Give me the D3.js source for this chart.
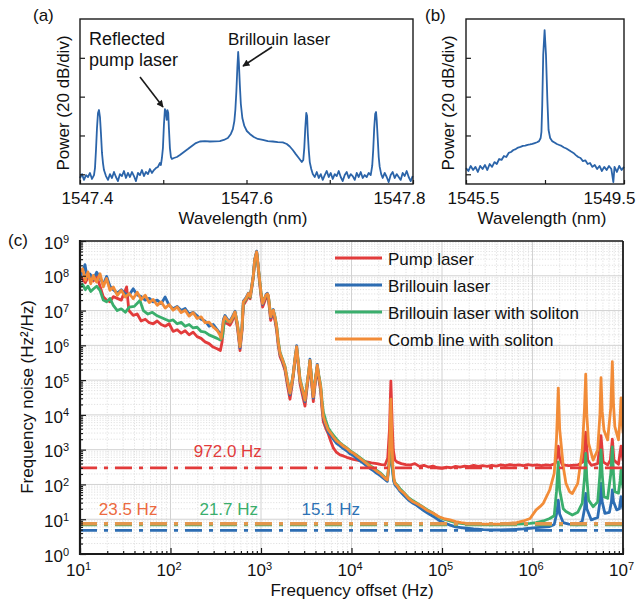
<!DOCTYPE html>
<html><head><meta charset="utf-8">
<script src="https://cdn.jsdelivr.net/npm/d3@7"></script>
<style>
body{margin:0;background:#fff}
svg{display:block}
text{font-family:"Liberation Sans",Arial,Helvetica,sans-serif;fill:#111}
</style></head>
<body><svg id="chart" width="636" height="606"></svg>
<script>
// ---------------- DATA ----------------
// Panel (a): optical spectrum [wavelength nm, power dB]
const spectrumA = [[1547.4000,-81.9],[1547.4024,-79.9],[1547.4048,-82.9],[1547.4072,-80.4],[1547.4096,-81.4],[1547.4120,-79.3],[1547.4144,-82.4],[1547.4168,-80.4],[1547.4180,-76.8],[1547.4192,-67.5],[1547.4204,-56.2],[1547.4216,-48.4],[1547.4228,-46.9],[1547.4240,-50.5],[1547.4252,-59.2],[1547.4264,-69.0],[1547.4276,-74.2],[1547.4288,-77.8],[1547.4312,-80.9],[1547.4336,-82.9],[1547.4360,-79.9],[1547.4384,-81.9],[1547.4408,-78.8],[1547.4432,-81.4],[1547.4456,-83.5],[1547.4480,-79.9],[1547.4504,-80.9],[1547.4528,-78.3],[1547.4552,-81.9],[1547.4576,-79.3],[1547.4600,-81.4],[1547.4624,-78.8],[1547.4648,-80.9],[1547.4672,-83.5],[1547.4696,-79.3],[1547.4720,-80.4],[1547.4744,-77.8],[1547.4768,-80.9],[1547.4792,-78.8],[1547.4816,-79.9],[1547.4840,-77.3],[1547.4864,-79.3],[1547.4888,-77.8],[1547.4912,-76.8],[1547.4936,-76.2],[1547.4960,-74.2],[1547.4972,-75.2],[1547.4984,-71.6],[1547.4996,-66.5],[1547.5008,-54.6],[1547.5020,-46.4],[1547.5032,-47.9],[1547.5042,-52.0],[1547.5050,-46.9],[1547.5060,-48.4],[1547.5068,-56.2],[1547.5080,-66.5],[1547.5092,-71.1],[1547.5104,-72.1],[1547.5128,-71.6],[1547.5164,-71.1],[1547.5200,-70.1],[1547.5248,-68.5],[1547.5296,-67.0],[1547.5344,-65.4],[1547.5392,-63.9],[1547.5440,-63.1],[1547.5500,-62.9],[1547.5560,-63.1],[1547.5620,-63.0],[1547.5680,-62.9],[1547.5728,-62.3],[1547.5776,-61.3],[1547.5812,-59.2],[1547.5836,-56.7],[1547.5854,-52.6],[1547.5866,-46.9],[1547.5878,-37.6],[1547.5890,-25.2],[1547.5900,-17.0],[1547.5908,-22.2],[1547.5920,-34.0],[1547.5932,-43.8],[1547.5950,-51.0],[1547.5974,-55.1],[1547.6004,-57.7],[1547.6040,-59.2],[1547.6088,-60.8],[1547.6136,-61.8],[1547.6196,-62.3],[1547.6256,-62.9],[1547.6316,-63.1],[1547.6376,-63.4],[1547.6436,-63.6],[1547.6484,-64.4],[1547.6520,-65.7],[1547.6556,-67.5],[1547.6592,-69.6],[1547.6628,-71.6],[1547.6664,-73.7],[1547.6682,-72.6],[1547.6694,-66.5],[1547.6706,-56.2],[1547.6718,-48.4],[1547.6728,-50.0],[1547.6736,-58.7],[1547.6748,-67.5],[1547.6760,-73.7],[1547.6778,-77.3],[1547.6796,-79.9],[1547.6820,-81.4],[1547.6844,-78.8],[1547.6868,-81.9],[1547.6892,-79.9],[1547.6916,-82.9],[1547.6940,-80.4],[1547.6964,-78.3],[1547.6988,-81.4],[1547.7012,-79.3],[1547.7036,-82.4],[1547.7060,-79.9],[1547.7084,-80.9],[1547.7108,-78.3],[1547.7132,-81.4],[1547.7156,-83.5],[1547.7180,-80.4],[1547.7204,-78.8],[1547.7228,-81.9],[1547.7252,-79.9],[1547.7276,-80.9],[1547.7300,-82.9],[1547.7324,-79.3],[1547.7348,-81.4],[1547.7372,-78.8],[1547.7396,-81.9],[1547.7420,-80.4],[1547.7444,-81.4],[1547.7468,-79.3],[1547.7492,-80.4],[1547.7510,-75.7],[1547.7522,-67.5],[1547.7534,-56.2],[1547.7546,-48.9],[1547.7556,-47.9],[1547.7564,-52.0],[1547.7576,-61.3],[1547.7588,-71.1],[1547.7600,-76.2],[1547.7618,-79.9],[1547.7636,-81.9],[1547.7660,-79.3],[1547.7684,-81.4],[1547.7708,-84.0],[1547.7732,-80.4],[1547.7756,-78.8],[1547.7780,-81.9],[1547.7804,-79.9],[1547.7828,-81.4],[1547.7852,-82.9],[1547.7876,-79.3],[1547.7900,-80.9],[1547.7924,-78.3],[1547.7948,-81.4],[1547.7972,-83.5],[1547.7996,-80.9]];
const wlTicksA = [1547.4, 1547.5, 1547.6, 1547.7, 1547.8];
const wlLabelsA = ["1547.4", "", "1547.6", "", "1547.8"];
const powerTicks = [-80, -60, -40, -20];

// Panel (b): wide-span spectrum
const spectrumB = [[1545.50,-76.8],[1545.56,-78.3],[1545.62,-75.7],[1545.68,-77.8],[1545.74,-76.2],[1545.80,-78.8],[1545.86,-75.7],[1545.92,-77.3],[1545.98,-75.2],[1546.04,-77.8],[1546.10,-74.7],[1546.16,-76.2],[1546.22,-73.7],[1546.28,-74.7],[1546.34,-72.1],[1546.40,-72.6],[1546.46,-70.6],[1546.52,-71.1],[1546.58,-69.0],[1546.64,-68.5],[1546.70,-67.5],[1546.76,-67.0],[1546.82,-66.2],[1546.88,-65.9],[1546.94,-65.4],[1547.00,-65.2],[1547.06,-64.8],[1547.12,-64.6],[1547.18,-64.3],[1547.24,-63.9],[1547.30,-63.5],[1547.35,-62.9],[1547.39,-61.3],[1547.41,-58.2],[1547.43,-44.3],[1547.455,-18.5],[1547.49,-5.7],[1547.525,-18.5],[1547.56,-41.7],[1547.59,-57.2],[1547.63,-61.3],[1547.68,-62.9],[1547.74,-63.6],[1547.80,-64.4],[1547.86,-64.9],[1547.92,-65.4],[1547.98,-66.2],[1548.04,-66.7],[1548.10,-67.5],[1548.16,-68.3],[1548.22,-69.0],[1548.28,-70.1],[1548.34,-71.1],[1548.40,-71.6],[1548.46,-73.2],[1548.52,-72.8],[1548.58,-74.7],[1548.64,-74.2],[1548.70,-76.2],[1548.76,-75.2],[1548.82,-77.3],[1548.88,-75.7],[1548.94,-78.3],[1549.00,-76.2],[1549.06,-77.8],[1549.12,-75.7],[1549.18,-77.3],[1549.23,-84.0],[1549.26,-76.2],[1549.32,-78.8],[1549.38,-75.7],[1549.44,-77.8],[1549.50,-76.2]];
const wlTicksB = [1545.5, 1547.5, 1549.5];
const wlLabelsB = ["1545.5", "", "1549.5"];

// Panel (c): frequency noise, [log10 f (Hz), log10 S (Hz^2/Hz)]
const pumpNoise = [[1.000,8.00],[1.029,7.90],[1.059,7.80],[1.088,7.95],[1.118,8.00],[1.147,7.85],[1.184,8.00],[1.221,7.70],[1.257,7.40],[1.294,7.30],[1.331,7.25],[1.368,7.40],[1.412,7.35],[1.456,7.30],[1.515,7.68],[1.540,7.00],[1.588,6.86],[1.632,6.90],[1.676,6.70],[1.721,6.75],[1.765,6.65],[1.809,6.62],[1.853,6.70],[1.897,6.60],[1.941,6.55],[1.985,6.62],[2.029,6.40],[2.074,6.45],[2.118,6.35],[2.162,6.42],[2.206,6.30],[2.250,6.38],[2.294,6.25],[2.338,6.20],[2.382,6.10],[2.426,6.05],[2.471,5.95],[2.515,5.90],[2.551,5.85],[2.570,6.10],[2.590,6.65],[2.630,6.62],[2.658,6.58],[2.685,6.72],[2.713,6.90],[2.740,6.50],[2.768,5.85],[2.790,6.40],[2.805,7.15],[2.835,7.28],[2.860,7.42],[2.880,7.34],[2.897,7.62],[2.915,7.95],[2.930,8.42],[2.952,8.68],[2.968,8.26],[2.981,7.90],[3.000,7.40],[3.018,7.10],[3.040,7.25],[3.055,7.36],[3.070,7.40],[3.081,7.36],[3.095,7.00],[3.107,6.72],[3.122,6.85],[3.136,6.92],[3.155,6.70],[3.173,6.42],[3.190,6.00],[3.210,5.68],[3.235,5.52],[3.265,5.28],[3.290,4.88],[3.320,4.45],[3.340,4.80],[3.357,5.12],[3.375,5.55],[3.394,5.90],[3.412,5.42],[3.431,4.90],[3.460,4.55],[3.486,4.25],[3.510,4.80],[3.530,5.22],[3.541,5.50],[3.560,4.90],[3.578,4.38],[3.600,4.92],[3.622,5.38],[3.640,5.00],[3.659,4.70],[3.675,4.15],[3.689,3.80],[3.715,3.62],[3.744,3.45],[3.770,3.25],[3.799,3.05],[3.835,2.92],[3.873,2.85],[3.910,2.82],[3.947,2.78],[3.985,2.75],[4.020,2.72],[4.060,2.70],[4.100,2.68],[4.168,2.65],[4.220,2.62],[4.280,2.60],[4.330,2.57],[4.370,2.56],[4.400,2.75],[4.420,3.60],[4.435,4.97],[4.450,3.70],[4.462,2.99],[4.480,2.70],[4.500,2.65],[4.550,2.60],[4.600,2.57],[4.650,2.56],[4.700,2.60],[4.750,2.52],[4.800,2.55],[4.850,2.50],[4.900,2.53],[4.950,2.48],[5.000,2.46],[5.050,2.50],[5.100,2.48],[5.150,2.52],[5.200,2.50],[5.250,2.53],[5.300,2.51],[5.350,2.55],[5.400,2.52],[5.450,2.54],[5.500,2.52],[5.550,2.55],[5.600,2.53],[5.650,2.56],[5.700,2.54],[5.750,2.57],[5.800,2.55],[5.850,2.56],[5.900,2.54],[5.950,2.57],[6.000,2.55],[6.050,2.56],[6.100,2.54],[6.150,2.56],[6.200,2.55],[6.250,2.60],[6.270,2.80],[6.285,3.10],[6.300,2.75],[6.330,2.56],[6.400,2.54],[6.500,2.56],[6.560,2.65],[6.588,3.50],[6.610,2.70],[6.650,2.55],[6.720,2.60],[6.757,3.40],[6.780,2.65],[6.830,2.56],[6.860,2.70],[6.882,3.30],[6.900,2.70],[6.950,2.58],[6.978,3.10],[7.000,2.70]];
const brillouinNoise = [[1.000,8.00],[1.029,8.10],[1.055,8.32],[1.080,7.95],[1.110,8.05],[1.147,7.90],[1.184,8.10],[1.221,7.95],[1.257,7.75],[1.294,7.98],[1.331,7.70],[1.368,7.60],[1.412,7.50],[1.456,7.60],[1.500,7.48],[1.544,7.45],[1.588,7.63],[1.632,7.45],[1.676,7.40],[1.721,7.30],[1.765,7.35],[1.809,7.25],[1.853,7.30],[1.897,7.20],[1.941,7.39],[1.985,7.15],[2.029,7.05],[2.074,7.12],[2.118,7.00],[2.162,7.06],[2.206,6.90],[2.250,6.95],[2.294,6.85],[2.338,6.75],[2.382,6.70],[2.426,6.55],[2.471,6.60],[2.515,6.45],[2.545,6.35],[2.562,6.22],[2.585,6.75],[2.602,6.86],[2.630,6.74],[2.658,6.70],[2.685,6.83],[2.713,6.98],[2.740,6.58],[2.768,5.92],[2.790,6.48],[2.805,7.27],[2.835,7.37],[2.860,7.50],[2.880,7.42],[2.897,7.70],[2.915,8.02],[2.930,8.47],[2.952,8.71],[2.968,8.32],[2.981,7.95],[3.000,7.48],[3.018,7.18],[3.040,7.33],[3.055,7.46],[3.070,7.50],[3.081,7.42],[3.095,7.08],[3.107,6.80],[3.122,6.93],[3.136,7.03],[3.155,6.78],[3.173,6.50],[3.190,6.08],[3.210,5.75],[3.235,5.58],[3.265,5.35],[3.290,4.97],[3.320,4.58],[3.340,4.88],[3.357,5.20],[3.375,5.62],[3.394,5.99],[3.412,5.48],[3.431,4.98],[3.460,4.66],[3.486,4.38],[3.510,4.88],[3.530,5.30],[3.541,5.60],[3.560,4.98],[3.578,4.48],[3.600,4.98],[3.622,5.45],[3.640,5.08],[3.659,4.78],[3.675,4.26],[3.689,3.92],[3.715,3.70],[3.744,3.50],[3.770,3.42],[3.799,3.30],[3.835,3.18],[3.873,3.11],[3.910,3.03],[3.947,2.97],[3.985,2.88],[4.020,2.83],[4.057,2.75],[4.094,2.68],[4.130,2.61],[4.168,2.53],[4.205,2.46],[4.241,2.40],[4.280,2.32],[4.315,2.26],[4.352,2.18],[4.380,2.12],[4.396,2.09],[4.418,2.60],[4.433,3.30],[4.448,2.55],[4.465,2.10],[4.481,1.98],[4.510,1.90],[4.536,1.80],[4.580,1.68],[4.630,1.55],[4.680,1.46],[4.720,1.40],[4.780,1.28],[4.840,1.18],[4.904,1.08],[4.960,0.98],[5.020,0.90],[5.089,0.83],[5.150,0.78],[5.210,0.76],[5.273,0.74],[5.350,0.72],[5.457,0.70],[5.550,0.69],[5.641,0.69],[5.730,0.70],[5.825,0.71],[5.900,0.72],[5.973,0.74],[6.040,0.76],[6.120,0.77],[6.190,0.79],[6.240,0.85],[6.270,1.20],[6.285,1.55],[6.300,1.15],[6.340,0.90],[6.400,0.86],[6.500,0.84],[6.550,0.95],[6.575,1.30],[6.588,1.74],[6.600,1.30],[6.650,0.98],[6.720,1.05],[6.745,1.50],[6.757,2.03],[6.770,1.50],[6.800,1.17],[6.850,1.20],[6.872,1.50],[6.882,1.84],[6.895,1.50],[6.930,1.27],[6.960,1.30],[6.978,1.65],[6.990,1.40],[7.000,1.30]];
const brillouinSolitonNoise = [[1.000,7.68],[1.029,7.75],[1.059,7.60],[1.088,7.70],[1.118,7.55],[1.147,7.62],[1.184,7.70],[1.221,7.58],[1.257,7.30],[1.294,7.25],[1.331,7.35],[1.368,7.15],[1.412,7.00],[1.456,7.05],[1.500,6.95],[1.544,7.10],[1.600,7.12],[1.662,7.29],[1.700,7.00],[1.750,6.90],[1.800,6.95],[1.853,6.85],[1.897,6.80],[1.941,6.75],[1.985,6.70],[2.029,6.73],[2.074,6.62],[2.118,6.66],[2.162,6.55],[2.206,6.60],[2.250,6.50],[2.294,6.52],[2.338,6.40],[2.382,6.38],[2.426,6.30],[2.471,6.25],[2.515,6.20],[2.551,6.15],[2.575,6.25],[2.595,6.72],[2.630,6.70],[2.658,6.66],[2.685,6.78],[2.713,6.94],[2.740,6.62],[2.768,6.00],[2.790,6.50],[2.805,7.22],[2.835,7.33],[2.860,7.46],[2.880,7.38],[2.897,7.66],[2.915,7.98],[2.930,8.43],[2.952,8.66],[2.968,8.28],[2.981,7.96],[3.000,7.52],[3.018,7.24],[3.040,7.36],[3.055,7.42],[3.070,7.46],[3.081,7.42],[3.095,7.12],[3.107,6.86],[3.122,6.96],[3.136,7.00],[3.155,6.82],[3.173,6.56],[3.190,6.14],[3.210,5.80],[3.235,5.62],[3.265,5.40],[3.290,5.04],[3.320,4.66],[3.340,4.92],[3.357,5.18],[3.375,5.58],[3.394,5.93],[3.412,5.52],[3.431,5.04],[3.460,4.74],[3.486,4.46],[3.510,4.92],[3.530,5.30],[3.541,5.55],[3.560,5.04],[3.578,4.58],[3.600,5.02],[3.622,5.40],[3.640,5.12],[3.659,4.86],[3.675,4.40],[3.689,4.08],[3.715,3.85],[3.744,3.62],[3.770,3.52],[3.799,3.42],[3.835,3.30],[3.873,3.20],[3.910,3.12],[3.947,3.05],[3.985,2.97],[4.020,2.91],[4.057,2.84],[4.094,2.77],[4.130,2.70],[4.168,2.62],[4.205,2.54],[4.241,2.48],[4.280,2.40],[4.315,2.34],[4.352,2.25],[4.380,2.18],[4.396,2.15],[4.418,2.70],[4.433,3.50],[4.448,2.70],[4.465,2.18],[4.481,2.05],[4.510,1.97],[4.536,1.88],[4.580,1.76],[4.630,1.62],[4.680,1.53],[4.720,1.47],[4.780,1.37],[4.840,1.27],[4.904,1.17],[4.960,1.07],[5.020,1.00],[5.089,0.95],[5.150,0.90],[5.210,0.88],[5.273,0.86],[5.350,0.85],[5.457,0.84],[5.550,0.84],[5.641,0.84],[5.730,0.85],[5.825,0.86],[5.900,0.87],[5.973,0.88],[6.040,0.90],[6.120,0.95],[6.190,1.02],[6.240,1.10],[6.265,1.80],[6.285,2.65],[6.300,1.84],[6.340,1.30],[6.370,1.22],[6.440,1.12],[6.500,1.20],[6.550,1.46],[6.575,2.20],[6.588,2.89],[6.600,2.20],[6.620,1.55],[6.670,1.36],[6.720,1.50],[6.745,2.30],[6.757,2.99],[6.770,2.30],[6.790,1.65],[6.830,1.60],[6.865,2.30],[6.882,3.08],[6.895,2.30],[6.910,1.79],[6.950,1.75],[6.968,2.10],[6.978,2.41],[6.990,2.10],[7.000,1.90]];
const combNoise = [[1.000,8.11],[1.029,8.20],[1.059,7.87],[1.088,8.11],[1.118,7.77],[1.147,8.01],[1.184,7.82],[1.221,8.06],[1.257,7.68],[1.294,7.92],[1.331,7.58],[1.368,7.68],[1.412,7.44],[1.456,7.58],[1.500,7.39],[1.544,7.49],[1.588,7.34],[1.632,7.53],[1.676,7.32],[1.721,7.44],[1.765,7.23],[1.809,7.32],[1.853,7.15],[1.897,7.25],[1.941,7.07],[1.985,7.17],[2.029,7.01],[2.074,7.10],[2.118,6.94],[2.162,7.01],[2.206,6.84],[2.250,6.94],[2.294,6.77],[2.338,6.82],[2.382,6.65],[2.426,6.67],[2.471,6.53],[2.515,6.43],[2.545,6.30],[2.560,6.20],[2.585,6.70],[2.602,6.82],[2.630,6.72],[2.658,6.67],[2.685,6.80],[2.713,6.96],[2.740,6.60],[2.768,5.96],[2.790,6.50],[2.805,7.25],[2.835,7.35],[2.860,7.49],[2.880,7.40],[2.897,7.68],[2.915,8.00],[2.930,8.45],[2.952,8.69],[2.968,8.30],[2.981,7.97],[3.000,7.50],[3.018,7.20],[3.040,7.35],[3.055,7.44],[3.070,7.48],[3.081,7.44],[3.095,7.10],[3.107,6.82],[3.122,6.95],[3.136,7.01],[3.155,6.80],[3.173,6.53],[3.190,6.10],[3.210,5.77],[3.235,5.60],[3.265,5.38],[3.290,5.00],[3.320,4.62],[3.340,4.90],[3.357,5.19],[3.375,5.60],[3.394,5.96],[3.412,5.50],[3.431,5.00],[3.460,4.70],[3.486,4.42],[3.510,4.90],[3.530,5.30],[3.541,5.57],[3.560,5.00],[3.578,4.52],[3.600,5.00],[3.622,5.43],[3.640,5.10],[3.659,4.81],[3.675,4.30],[3.689,3.95],[3.715,3.75],[3.744,3.56],[3.770,3.48],[3.799,3.37],[3.835,3.25],[3.873,3.18],[3.910,3.10],[3.947,3.04],[3.985,2.95],[4.020,2.90],[4.057,2.82],[4.094,2.75],[4.130,2.68],[4.168,2.60],[4.205,2.52],[4.241,2.46],[4.280,2.38],[4.315,2.32],[4.352,2.23],[4.380,2.16],[4.396,2.13],[4.415,2.60],[4.425,3.40],[4.435,4.45],[4.445,3.50],[4.455,2.60],[4.470,2.15],[4.481,2.03],[4.510,1.95],[4.536,1.84],[4.580,1.75],[4.630,1.60],[4.680,1.50],[4.720,1.45],[4.780,1.36],[4.840,1.25],[4.904,1.17],[4.960,1.08],[5.020,1.02],[5.089,0.98],[5.150,0.93],[5.210,0.90],[5.273,0.88],[5.350,0.87],[5.457,0.86],[5.550,0.86],[5.641,0.86],[5.730,0.88],[5.825,0.90],[5.900,0.95],[5.973,1.02],[6.040,1.27],[6.083,1.36],[6.120,1.46],[6.190,1.84],[6.240,2.32],[6.265,3.30],[6.285,4.77],[6.300,3.60],[6.340,2.51],[6.370,2.03],[6.410,1.79],[6.440,1.74],[6.500,2.03],[6.550,2.99],[6.575,4.20],[6.588,5.17],[6.600,4.00],[6.620,3.18],[6.670,2.70],[6.720,2.99],[6.745,4.00],[6.757,5.07],[6.770,4.10],[6.790,3.56],[6.830,3.28],[6.865,4.20],[6.882,5.53],[6.895,4.30],[6.910,3.66],[6.950,3.28],[6.968,3.90],[6.978,4.49],[6.990,3.80],[7.000,3.50]];
const seriesNames = ["Pump laser", "Brillouin laser", "Brillouin laser with soliton", "Comb line with soliton"];
const seriesColors = ["#e23b3b", "#2d6db3", "#3aae6c", "#f28c38"];
// integrated linewidth reference levels (Hz^2/Hz) and their labels
const levelValues = [300, 4.8, 7.0, 7.4];
const levelLabels = ["972.0 Hz", "15.1 Hz", "21.7 Hz", "23.5 Hz"];
const levelLabelColors = ["#e23b3b", "#2d72b5", "#3aae6c", "#ec6a40"];
const freqTicks = [1e1, 1e2, 1e3, 1e4, 1e5, 1e6, 1e7];
const noiseTicks = [1e0, 1e1, 1e2, 1e3, 1e4, 1e5, 1e6, 1e7, 1e8, 1e9];

// ---------------- DRAWING ----------------
const svg = d3.select("#chart");
const FONT = '"Liberation Sans", Arial, Helvetica, sans-serif';
const specColor = "#2b64a9";
const ink = "#1a1a1a";

svg.append("defs").append("marker")
  .attr("id", "arrow").attr("viewBox", "0 0 10 10").attr("refX", 9).attr("refY", 5)
  .attr("markerWidth", 9).attr("markerHeight", 7).attr("markerUnits", "userSpaceOnUse")
  .attr("orient", "auto")
  .append("path").attr("d", "M0,0 L10,5 L0,10 Z").attr("fill", ink);

function styleAxis(g) {
  g.select(".domain").remove();
  g.selectAll(".tick line").attr("stroke", ink).attr("stroke-width", 1.2);
  g.attr("font-size", 17).attr("font-family", FONT);
  g.selectAll(".tick text").attr("fill", ink);
}

function spectrumPanel(data, xs, ys, ticksX, labelsX, labelShift, left, right) {
  const g = svg.append("g");
  g.append("path").datum(data)
    .attr("d", d3.line().x(d => xs(d[0])).y(d => ys(d[1])))
    .attr("fill", "none").attr("stroke", specColor).attr("stroke-width", 1.8)
    .attr("stroke-linejoin", "round");
  const ax = g.append("g").attr("transform", `translate(0,${ys.range()[0]})`)
    .call(d3.axisBottom(xs).tickValues(ticksX).tickSize(-4).tickPadding(7.5)
      .tickFormat((d, i) => labelsX[i]));
  styleAxis(ax);
  ax.selectAll(".tick text").attr("dx", (d, i) => labelShift[i]);
  const ay = g.append("g").attr("transform", `translate(${left},0)`)
    .call(d3.axisLeft(ys).tickValues(powerTicks).tickSize(-5).tickFormat(""));
  styleAxis(ay);
  g.append("rect").attr("x", left).attr("y", ys.range()[1])
    .attr("width", right - left).attr("height", ys.range()[0] - ys.range()[1])
    .attr("fill", "none").attr("stroke", ink).attr("stroke-width", 1.4);
  return g;
}

// Panel (a)
const xA = d3.scaleLinear().domain([1547.4, 1547.8]).range([80, 413]);
const yA = d3.scaleLinear().domain([-85, 0]).range([184, 19]);
const gA = spectrumPanel(spectrumA, xA, yA, wlTicksA, wlLabelsA, [7, 0, 0, 0, -14], 80, 413);
gA.append("text").attr("x", 243).attr("y", 223.5).attr("text-anchor", "middle").attr("font-size", 17).text("Wavelength (nm)");
gA.append("text").attr("transform", "translate(69,103) rotate(-90)").attr("text-anchor", "middle").attr("font-size", 17).text("Power (20 dB/div)");
gA.append("text").attr("x", 33).attr("y", 21).attr("font-size", 17).text("(a)");
gA.append("text").attr("x", 89).attr("y", 45).attr("font-size", 18).text("Reflected");
gA.append("text").attr("x", 89).attr("y", 66).attr("font-size", 18).text("pump laser");
gA.append("text").attr("x", 228).attr("y", 45).attr("font-size", 17).text("Brillouin laser");
gA.append("line").attr("x1", 140).attr("y1", 77).attr("x2", 163).attr("y2", 107)
  .attr("stroke", ink).attr("stroke-width", 1.6).attr("marker-end", "url(#arrow)");
gA.append("line").attr("x1", 272).attr("y1", 47).attr("x2", 243).attr("y2", 66)
  .attr("stroke", ink).attr("stroke-width", 1.6).attr("marker-end", "url(#arrow)");

// Panel (b)
const xB = d3.scaleLinear().domain([1545.5, 1549.5]).range([466, 624]);
const yB = d3.scaleLinear().domain([-85, 0]).range([184, 19]);
const gB = spectrumPanel(spectrumB, xB, yB, wlTicksB, wlLabelsB, [7, 0, -15], 466, 624);
gB.append("text").attr("x", 542).attr("y", 223.5).attr("text-anchor", "middle").attr("font-size", 17).text("Wavelength (nm)");
gB.append("text").attr("transform", "translate(454,103) rotate(-90)").attr("text-anchor", "middle").attr("font-size", 17).text("Power (20 dB/div)");
gB.append("text").attr("x", 425).attr("y", 21).attr("font-size", 17).text("(b)");

// Panel (c)
const xC = d3.scaleLog().domain([1e1, 1e7]).range([80, 623]);
const yC = d3.scaleLog().domain([1e0, 1e9]).range([554, 241]);
const gC = svg.append("g");
const isMajor = d => Math.abs(Math.log10(d) - Math.round(Math.log10(d))) < 1e-9;
const minorX = xC.ticks().filter(d => !isMajor(d));
const minorY = yC.ticks().filter(d => !isMajor(d));

gC.append("clipPath").attr("id", "clipC").append("rect")
  .attr("x", 80).attr("y", 241).attr("width", 543).attr("height", 313);

// grid
const grid = gC.append("g");
grid.selectAll(".gxm").data(minorX).join("line")
  .attr("x1", d => xC(d)).attr("x2", d => xC(d)).attr("y1", 241).attr("y2", 554)
  .attr("stroke", "#d9d9d9").attr("stroke-width", 0.8).attr("stroke-dasharray", "1.2,1.6");
grid.selectAll(".gym").data(minorY).join("line")
  .attr("y1", d => yC(d)).attr("y2", d => yC(d)).attr("x1", 80).attr("x2", 623)
  .attr("stroke", "#d9d9d9").attr("stroke-width", 0.8).attr("stroke-dasharray", "1.2,1.6");
grid.selectAll(".gxM").data(freqTicks).join("line")
  .attr("x1", d => xC(d)).attr("x2", d => xC(d)).attr("y1", 241).attr("y2", 554)
  .attr("stroke", "#d2d2d2").attr("stroke-width", 1);
grid.selectAll(".gyM").data(noiseTicks).join("line")
  .attr("y1", d => yC(d)).attr("y2", d => yC(d)).attr("x1", 80).attr("x2", 623)
  .attr("stroke", "#d2d2d2").attr("stroke-width", 1);

// curves
const lineC = d3.line().x(d => xC(Math.pow(10, d[0]))).y(d => yC(Math.pow(10, d[1])));
const plot = gC.append("g").attr("clip-path", "url(#clipC)");
[pumpNoise, brillouinNoise, brillouinSolitonNoise, combNoise].forEach((s, i) => {
  plot.append("path").datum(s).attr("d", lineC).attr("fill", "none")
    .attr("stroke", seriesColors[i]).attr("stroke-width", 2.8)
    .attr("stroke-linejoin", "round").attr("stroke-linecap", "round");
});

// reference dash-dot levels
const levelWidths = [2.6, 2.8, 3.4, 3.6];
const levelColor = ["#e23b3b", "#2d6db3", "#3aae6c", "#e3964c"];
levelValues.forEach((v, i) => {
  plot.append("line").attr("x1", 80).attr("x2", 623).attr("y1", yC(v)).attr("y2", yC(v))
    .attr("stroke", levelColor[i]).attr("stroke-width", levelWidths[i])
    .attr("stroke-dasharray", "17,7,4,7");
});
// level labels (positions given in data units)
const labelAt = [[430, 620], [5900, 13], [440, 13], [34, 13]];
levelLabels.forEach((t, i) => {
  gC.append("text").attr("x", xC(labelAt[i][0])).attr("y", yC(labelAt[i][1]))
    .attr("text-anchor", "middle").attr("font-size", 17).style("fill", levelLabelColors[i]).text(t);
});

// axes
const axB = gC.append("g").attr("transform", "translate(0,554)")
  .call(d3.axisBottom(xC).tickValues(freqTicks).tickSize(-6).tickPadding(10).tickFormat(""));
styleAxis(axB);
axB.selectAll(".tick text").each(function (d) {
  const t = d3.select(this);
  t.append("tspan").text("10");
  t.append("tspan").attr("dy", "-0.55em").attr("font-size", 11).text(Math.round(Math.log10(d)));
}).attr("dx", -2);
const axBm = gC.append("g").attr("transform", "translate(0,554)")
  .call(d3.axisBottom(xC).tickValues(minorX).tickSize(-3).tickFormat(""));
styleAxis(axBm);

const axL = gC.append("g").attr("transform", "translate(80,0)")
  .call(d3.axisLeft(yC).tickValues(noiseTicks).tickSize(-6).tickPadding(11).tickFormat(""));
styleAxis(axL);
axL.selectAll(".tick text").each(function (d) {
  const t = d3.select(this);
  t.append("tspan").text("10");
  t.append("tspan").attr("dy", "-0.55em").attr("font-size", 11).text(Math.round(Math.log10(d)));
}).attr("dy", "0.42em");
const axLm = gC.append("g").attr("transform", "translate(80,0)")
  .call(d3.axisLeft(yC).tickValues(minorY).tickSize(-3).tickFormat(""));
styleAxis(axLm);

// frame
gC.append("line").attr("x1", 80).attr("x2", 623).attr("y1", 241).attr("y2", 241).attr("stroke", ink).attr("stroke-width", 1.5);
gC.append("line").attr("x1", 623).attr("x2", 623).attr("y1", 241).attr("y2", 554).attr("stroke", ink).attr("stroke-width", 1.8);
gC.append("line").attr("x1", 80).attr("x2", 80).attr("y1", 240).attr("y2", 555).attr("stroke", ink).attr("stroke-width", 2.2);
gC.append("line").attr("x1", 79).attr("x2", 624).attr("y1", 554).attr("y2", 554).attr("stroke", ink).attr("stroke-width", 2.2);

// legend
const leg = gC.append("g");
seriesNames.forEach((n, i) => {
  const y = 258 + i * 27;
  leg.append("line").attr("x1", 335).attr("x2", 382).attr("y1", y).attr("y2", y)
    .attr("stroke", seriesColors[i]).attr("stroke-width", 3.2);
  leg.append("text").attr("x", 388).attr("y", y + 6.5).attr("font-size", 17).text(n);
});

// axis titles
gC.append("text").attr("x", 352).attr("y", 596).attr("text-anchor", "middle").attr("font-size", 17).text("Frequency offset (Hz)");
gC.append("text").attr("transform", "translate(33,397) rotate(-90)").attr("text-anchor", "middle").attr("font-size", 17).text("Frequency noise (Hz²/Hz)");
gC.append("text").attr("x", 8).attr("y", 246).attr("font-size", 17).text("(c)");
</script></body></html>
